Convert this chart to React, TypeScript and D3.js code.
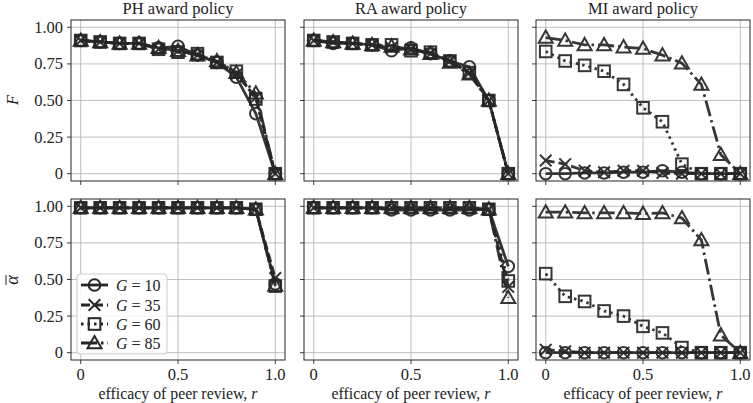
import React from "react";
import * as d3 from "d3";

// efficacy of peer review, r
const rValues = [0, 0.1, 0.2, 0.3, 0.4, 0.5, 0.6, 0.7, 0.8, 0.9, 1.0];
const groupSizes = [10, 35, 60, 85];
const policies = ["PH", "RA", "MI"];

// fitness F, one array per G
const phF = [
  [0.91, 0.9, 0.89, 0.89, 0.86, 0.87, 0.81, 0.76, 0.66, 0.41, 0.0],
  [0.91, 0.9, 0.89, 0.89, 0.85, 0.84, 0.81, 0.76, 0.68, 0.52, 0.0],
  [0.91, 0.9, 0.89, 0.89, 0.85, 0.83, 0.82, 0.76, 0.7, 0.51, 0.0],
  [0.91, 0.9, 0.89, 0.89, 0.86, 0.84, 0.81, 0.77, 0.69, 0.55, 0.0],
];
const raF = [
  [0.91, 0.89, 0.89, 0.88, 0.84, 0.86, 0.82, 0.77, 0.73, 0.5, 0.0],
  [0.91, 0.9, 0.89, 0.88, 0.86, 0.85, 0.82, 0.77, 0.69, 0.5, 0.0],
  [0.91, 0.9, 0.89, 0.88, 0.88, 0.84, 0.83, 0.77, 0.69, 0.5, 0.0],
  [0.91, 0.9, 0.89, 0.88, 0.87, 0.85, 0.82, 0.76, 0.68, 0.5, 0.0],
];
const miF = [
  [0, 0, 0.005, 0.005, 0.01, 0.01, 0.02, 0.01, 0, 0, 0],
  [0.09, 0.065, 0.02, 0.01, 0.02, 0.02, 0.005, 0, 0, 0, 0],
  [0.835, 0.77, 0.74, 0.7, 0.61, 0.45, 0.355, 0.065, 0, 0, 0],
  [0.93, 0.91, 0.88, 0.88, 0.865, 0.855, 0.81, 0.755, 0.61, 0.13, 0],
];

// mean alpha, one array per G
const phAlpha = [
  [0.99, 0.99, 0.99, 0.99, 0.99, 0.99, 0.99, 0.99, 0.99, 0.98, 0.47],
  [0.99, 0.99, 0.99, 0.99, 0.99, 0.99, 0.99, 0.99, 0.99, 0.98, 0.51],
  [0.99, 0.99, 0.99, 0.99, 0.99, 0.99, 0.99, 0.99, 0.99, 0.98, 0.455],
  [0.99, 0.99, 0.99, 0.99, 0.99, 0.99, 0.99, 0.99, 0.99, 0.98, 0.46],
];
const raAlpha = [
  [0.99, 0.99, 0.99, 0.99, 0.975, 0.975, 0.975, 0.975, 0.975, 0.98, 0.59],
  [0.99, 0.99, 0.99, 0.99, 0.99, 0.99, 0.99, 0.99, 0.99, 0.98, 0.45],
  [0.99, 0.99, 0.99, 0.99, 0.99, 0.99, 0.99, 0.99, 0.99, 0.98, 0.49],
  [0.99, 0.99, 0.99, 0.99, 0.99, 0.99, 0.99, 0.99, 0.99, 0.98, 0.375],
];
const miAlpha = [
  [0, 0, 0, 0, 0, 0, 0, 0, 0, 0, 0],
  [0.02, 0.01, 0, 0, 0, 0, 0, 0, 0, 0, 0],
  [0.54, 0.385, 0.35, 0.285, 0.25, 0.18, 0.135, 0.035, 0, 0, 0],
  [0.96, 0.96, 0.955, 0.955, 0.955, 0.95, 0.955, 0.92, 0.77, 0.12, 0],
];

const yTicks = [0, 0.25, 0.5, 0.75, 1.0];
const yTickLabels = ["0", "0.25", "0.50", "0.75", "1.00"];
const xTicks = [0, 0.5, 1.0];
const xTickLabels = ["0", "0.5", "1.0"];

const rows = [
  [phF, raF, miF],
  [phAlpha, raAlpha, miAlpha],
];

const ink = "#262626";
const dashes = ["none", "9,4", "2.5,4", "16,4,2.5,4"];
const markers = ["circle", "x", "square", "triangle"];
const font = "'Liberation Serif', 'Times New Roman', serif";

const colLeft = [71, 304, 536];
const panelW = 214;
const rowTop = [20, 199];
const panelH = 161;

function Marker({ kind, x, y }: { kind: string; x: number; y: number }) {
  const common = { fill: "none", stroke: ink, strokeWidth: 2 };
  if (kind === "circle") return <circle cx={x} cy={y} r={5.8} {...common} />;
  if (kind === "square") return <rect x={x - 5.8} y={y - 5.8} width={11.6} height={11.6} {...common} />;
  if (kind === "triangle") {
    const p = d3.path();
    p.moveTo(x, y - 7);
    p.lineTo(x + 7, y + 5.3);
    p.lineTo(x - 7, y + 5.3);
    p.closePath();
    return <path d={p.toString()} {...common} />;
  }
  return (
    <path
      d={`M${x - 5.8},${y - 5.8}L${x + 5.8},${y + 5.8}M${x - 5.8},${y + 5.8}L${x + 5.8},${y - 5.8}`}
      {...common}
    />
  );
}

function Panel({ left, top, series, row, col }: any) {
  const x = d3.scaleLinear().domain([-0.05, 1.05]).range([left, left + panelW]);
  const y = d3.scaleLinear().domain([-0.05, 1.05]).range([top + panelH, top]);
  const line = d3
    .line<number>()
    .x((_, i) => x(rValues[i]))
    .y((d) => y(d));
  return (
    <g>
      {xTicks.map((t) => (
        <line key={"gx" + t} x1={x(t)} x2={x(t)} y1={top} y2={top + panelH} stroke="#b8b8b8" strokeWidth={0.9} />
      ))}
      {yTicks.map((t) => (
        <line key={"gy" + t} x1={left} x2={left + panelW} y1={y(t)} y2={y(t)} stroke="#b8b8b8" strokeWidth={0.9} />
      ))}
      {xTicks.map((t, i) => (
        <g key={"tx" + t}>
          <line x1={x(t)} x2={x(t)} y1={top + panelH} y2={top + panelH + 4} stroke={ink} strokeWidth={0.9} />
          {row === 1 && (
            <text x={x(t)} y={top + panelH + 19.5} textAnchor="middle" fontSize={16.5} fill="#222">
              {xTickLabels[i]}
            </text>
          )}
        </g>
      ))}
      {yTicks.map((t, i) => (
        <g key={"ty" + t}>
          <line x1={left - 4} x2={left} y1={y(t)} y2={y(t)} stroke={ink} strokeWidth={0.9} />
          {col === 0 && (
            <text x={left - 8} y={y(t) + 5.5} textAnchor="end" fontSize={16.5} fill="#222">
              {yTickLabels[i]}
            </text>
          )}
        </g>
      ))}
      {series.map((vals: number[], s: number) => (
        <g key={"s" + s} opacity={0.92}>
          <path d={line(vals) || ""} fill="none" stroke={ink} strokeWidth={2.8} strokeDasharray={dashes[s]} />
          {vals.map((v, i) => (
            <Marker key={i} kind={markers[s]} x={x(rValues[i])} y={y(v)} />
          ))}
        </g>
      ))}
      <rect x={left} y={top} width={panelW} height={panelH} fill="none" stroke={ink} strokeWidth={1} />
      {row === 0 && (
        <text x={left + panelW / 2} y={14} textAnchor="middle" fontSize={16.5} fill="#222">
          {policies[col]} award policy
        </text>
      )}
      {row === 1 && (
        <text x={left + panelW / 2} y={398.5} textAnchor="middle" fontSize={15.8} fill="#222">
          efficacy of peer review, <tspan fontStyle="italic">r</tspan>
        </text>
      )}
    </g>
  );
}

function Legend() {
  const lx = 77;
  const ly = 274;
  const rowsY = [285, 305, 324, 343];
  return (
    <g>
      <rect x={lx} y={ly} width={90} height={80} rx={3} fill="white" fillOpacity={0.85} stroke="#cccccc" strokeWidth={1} />
      {groupSizes.map((g, s) => (
        <g key={g}>
          <line x1={81} x2={108} y1={rowsY[s]} y2={rowsY[s]} stroke={ink} strokeWidth={2.8} strokeDasharray={dashes[s]} />
          <Marker kind={markers[s]} x={94.5} y={rowsY[s]} />
          <text x={116} y={rowsY[s] + 5.5} fontSize={16} fill="#222">
            <tspan fontStyle="italic">G</tspan> = {g}
          </text>
        </g>
      ))}
    </g>
  );
}

export default function App() {
  return (
    <svg width={753} height={403} style={{ position: "absolute", left: 0, top: 0, background: "white" }} fontFamily={font}>
      {rows.map((rowSeries, r) =>
        rowSeries.map((series, c) => (
          <Panel key={r + "-" + c} left={colLeft[c]} top={rowTop[r]} series={series} row={r} col={c} />
        ))
      )}
      <Legend />
      <text transform="translate(18,100) rotate(-90)" textAnchor="middle" fontSize={16.5} fontStyle="italic" fill="#222">
        F
      </text>
      <g transform="translate(18,280) rotate(-90)">
        <text textAnchor="middle" fontSize={18} fontStyle="italic" fill="#222">
          α
        </text>
        <line x1={-5} x2={5} y1={-12} y2={-12} stroke="#222" strokeWidth={1} />
      </g>
    </svg>
  );
}
